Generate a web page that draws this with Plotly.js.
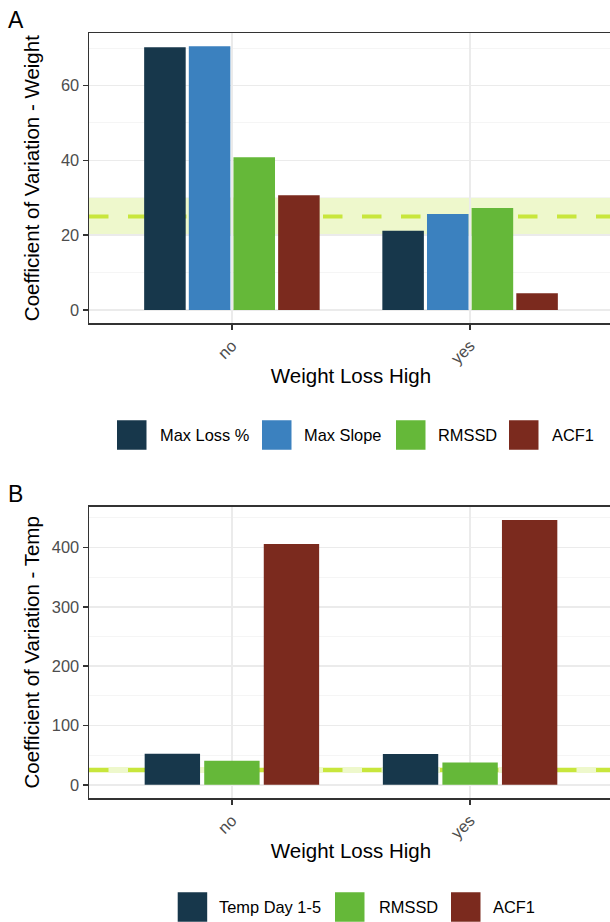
<!DOCTYPE html>
<html>
<head>
<meta charset="utf-8">
<script src="https://cdn.plot.ly/plotly-3.0.1.min.js"></script>
<style>
html, body { margin: 0; padding: 0; background: #ffffff; overflow: hidden; }
#chart { width: 616px; height: 922px; }
</style>
</head>
<body>
<div id="chart"></div>
<script>
// ---------- data ----------
const categories = ["no", "yes"];

// Panel A: Coefficient of Variation - Weight
const weightSeries = ["Max Loss %", "Max Slope", "RMSSD", "ACF1"];
const weightMaxLoss = [70.2, 21.2];
const weightMaxSlope = [70.5, 25.7];
const weightRMSSD = [40.8, 27.3];
const weightACF1 = [30.7, 4.5];

// Panel B: Coefficient of Variation - Temp
const tempSeries = ["Temp Day 1-5", "RMSSD", "ACF1"];
const tempDay15 = [52.3, 52.0];
const tempRMSSD = [40.4, 37.6];
const tempACF1 = [406, 446.7];

// reference band and line
const refBand = [20, 30];
const refLine = 25;

// ---------- styles ----------
const colWeight = ["#17374b", "#3b81bf", "#65b839", "#7b2a1e"];
const colTemp = ["#17374b", "#65b839", "#7b2a1e"];
const FONT = "Liberation Sans, Arial, Helvetica, sans-serif";

const W = 616, H = 922;
const ML = 89, MR = 3, MT = 33, MB = 124;
const plotW = W - ML - MR, plotH = H - MT - MB;
const px2x = p => (p - ML) / plotW;
const py2y = p => (H - MB - p) / plotH;

const weightValues = [weightMaxLoss, weightMaxSlope, weightRMSSD, weightACF1];
const tempValues = [tempDay15, tempRMSSD, tempACF1];

const traces = [];
weightSeries.forEach((name, i) => {
  traces.push({
    type: "bar", x: categories, y: weightValues[i], name: name,
    xaxis: "x", yaxis: "y", showlegend: false,
    marker: { color: colWeight[i], line: { width: 0 } },
    hoverinfo: "x+y+name"
  });
});
tempSeries.forEach((name, i) => {
  traces.push({
    type: "bar", x: categories, y: tempValues[i], name: name,
    xaxis: "x2", yaxis: "y2", showlegend: false,
    marker: { color: colTemp[i], line: { width: 0 } },
    hoverinfo: "x+y+name"
  });
});

function xAxis(anchor) {
  return {
    anchor: anchor, domain: [0, 1], type: "category", categoryarray: categories,
    range: [-0.6, 1.6], showgrid: true, gridcolor: "#ebebeb", gridwidth: 1.5,
    zeroline: false, showline: true, linecolor: "#333333", linewidth: 1.5, mirror: true,
    ticks: "outside", ticklen: 5, tickwidth: 1.5, tickcolor: "#333333",
    tickangle: -45, tickfont: { family: FONT, size: 16.4, color: "#4d4d4d" },
    title: { text: "Weight Loss High", font: { family: FONT, size: 20.5, color: "#000000" }, standoff: 2 }
  };
}
function yAxis(anchor, domain, range, dtick, title, standoff) {
  return {
    anchor: anchor, domain: domain, range: range, dtick: dtick, tick0: 0,
    showgrid: true, gridcolor: "#ebebeb", gridwidth: 1.5,
    minor: { dtick: dtick / 2, tick0: 0, showgrid: true, gridcolor: "#f2f2f2", gridwidth: 0.8, ticks: "" },
    zeroline: false, showline: true, linecolor: "#333333", linewidth: 1.5, mirror: true,
    ticks: "outside", ticklen: 5, tickwidth: 1.5, tickcolor: "#333333",
    tickfont: { family: FONT, size: 16.4, color: "#4d4d4d" },
    title: { text: title, font: { family: FONT, size: 20.5, color: "#000000" }, standoff: standoff }
  };
}

const domA = [py2y(323.3), 1];
const domB = [0, py2y(506.7)];
const maxA = Math.max(...weightMaxLoss, ...weightMaxSlope, ...weightRMSSD, ...weightACF1);
const maxB = Math.max(...tempDay15, ...tempRMSSD, ...tempACF1);

const shapes = [];
[["x", "y"], ["x2", "y2"]].forEach(([xa, ya]) => {
  shapes.push({
    type: "rect", layer: "below", xref: xa + " domain", yref: ya,
    x0: 0, x1: 1, y0: refBand[0], y1: refBand[1],
    fillcolor: "#eef8cc", line: { width: 0 }
  });
  shapes.push({
    type: "line", layer: "below", xref: xa + " domain", yref: ya,
    x0: 0, x1: 1, y0: refLine, y1: refLine,
    line: { color: "#c8e63c", width: 4, dash: "19.5px,19.5px" }
  });
});

const annotations = [];
// custom legends (large ggplot-style keys)
const legA = { keyX: [117, 262, 396, 509], textX: [160, 304, 438, 552], yc: 435 };
const legB = { keyX: [177.7, 335, 451], textX: [219, 379, 493], yc: 907 };
const KEY = 29.5;
function addLegend(names, colors, leg) {
  names.forEach((n, i) => {
    shapes.push({
      type: "rect", xref: "paper", yref: "paper",
      x0: px2x(leg.keyX[i]), x1: px2x(leg.keyX[i] + KEY),
      y0: py2y(leg.yc + KEY / 2), y1: py2y(leg.yc - KEY / 2),
      fillcolor: colors[i], line: { width: 0 }
    });
    annotations.push({
      xref: "paper", yref: "paper", x: px2x(leg.textX[i] - 2), y: py2y(leg.yc),
      xanchor: "left", yanchor: "middle", showarrow: false, text: n,
      font: { family: FONT, size: 16.4, color: "#000000" }
    });
  });
}
addLegend(weightSeries, colWeight, legA);
addLegend(tempSeries, colTemp, legB);

annotations.push({
  xref: "paper", yref: "paper", x: px2x(6), y: py2y(20), xanchor: "left", yanchor: "middle",
  showarrow: false, text: "A", font: { family: FONT, size: 23, color: "#000000" }
});
annotations.push({
  xref: "paper", yref: "paper", x: px2x(6), y: py2y(494), xanchor: "left", yanchor: "middle",
  showarrow: false, text: "B", font: { family: FONT, size: 23, color: "#000000" }
});

const layout = {
  width: W, height: H,
  margin: { l: ML, r: MR, t: MT, b: MB, pad: 0 },
  paper_bgcolor: "#ffffff", plot_bgcolor: "#ffffff",
  font: { family: FONT, color: "#000000" },
  barmode: "group", bargap: 0.25, bargroupgap: 0.07,
  showlegend: false,
  xaxis: xAxis("y"),
  yaxis: yAxis("x", domA, [-0.05 * maxA, 1.05 * maxA], 20, "Coefficient of Variation - Weight", 16),
  xaxis2: xAxis("y2"),
  yaxis2: yAxis("x2", domB, [-0.05 * maxB, 1.05 * maxB], 100, "Coefficient of Variation - Temp", 6),
  shapes: shapes,
  annotations: annotations
};

Plotly.newPlot("chart", traces, layout, { displayModeBar: false, staticPlot: true });
</script>
</body>
</html>
